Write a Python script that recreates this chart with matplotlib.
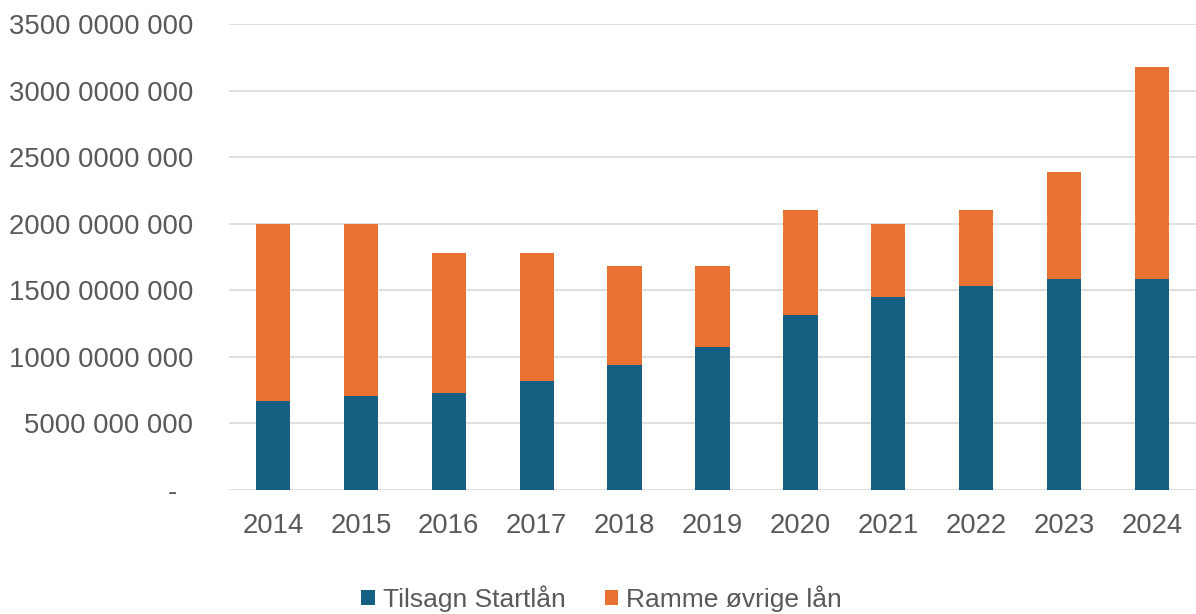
import matplotlib
matplotlib.use("Agg")
import matplotlib.pyplot as plt
from matplotlib import font_manager as fm
from matplotlib.patches import Patch
import numpy as np

years = ["2014", "2015", "2016", "2017", "2018", "2019", "2020", "2021", "2022", "2023", "2024"]
startlan = [6.64e9, 7.04e9, 7.24e9, 8.18e9, 9.39e9, 10.73e9, 13.1e9, 14.49e9, 15.29e9, 15.87e9, 15.87e9]
total = [20.0e9, 20.0e9, 17.8e9, 17.8e9, 16.84e9, 16.84e9, 21.0e9, 20.0e9, 21.0e9, 23.9e9, 31.8e9]
ovrige = [t - s for t, s in zip(total, startlan)]

yticks = [0, 5e9, 10e9, 15e9, 20e9, 25e9, 30e9, 35e9]
ytick_labels = ["-  ", "5000 000 000", "1000 0000 000", "1500 0000 000", "2000 0000 000",
                "2500 0000 000", "3000 0000 000", "3500 0000 000"]
series_names = ["Tilsagn Startlån", "Ramme øvrige lån"]
colors = ["#156082", "#E97132"]

names = {f.name for f in fm.fontManager.ttflist}
if "Liberation Sans Narrow" in names:
    fam = ["Liberation Sans Narrow", "DejaVu Sans"]
    fs_tick = 21.5
    fs_leg = 21.5
else:
    fam = ["Liberation Sans", "DejaVu Sans"]
    fs_tick = 19.8
    fs_leg = 19
plt.rcParams["font.family"] = fam

fig = plt.figure(figsize=(11.96, 6.14), dpi=100)
ax = fig.add_axes([229 / 1196, 1 - 489.8 / 614, 1 - 229 / 1196, (489.8 - 24) / 614])

x = np.arange(len(years))
w = 0.39
ax.bar(x, startlan, w, color=colors[0], zorder=3)
ax.bar(x, ovrige, w, bottom=startlan, color=colors[1], zorder=3)

ax.set_xlim(-0.5, len(years) - 0.5)
ax.set_ylim(0, 35e9)
ax.set_yticks(yticks)
ax.set_yticklabels(ytick_labels)
ax.set_xticks(x)
ax.set_xticklabels(years)
ax.tick_params(axis="y", length=0, pad=36 * 0.72, labelsize=fs_tick, labelcolor="#595959")
ax.tick_params(axis="x", length=0, pad=17, labelsize=fs_tick, labelcolor="#595959")
ax.grid(axis="y", color="#D9D9D9", linewidth=1.2, zorder=0)
ax.set_axisbelow(True)
for s in ax.spines.values():
    s.set_visible(False)

handles = [Patch(facecolor=c, edgecolor="none") for c in colors]
fig.legend(handles, series_names, loc="center", bbox_to_anchor=(0.503, 0.025),
           ncol=2, frameon=False, fontsize=fs_leg, labelcolor="#595959",
           handlelength=0.5, handleheight=0.5, handletextpad=0.3, columnspacing=1.5)

fig.savefig("out.png", dpi=100)
